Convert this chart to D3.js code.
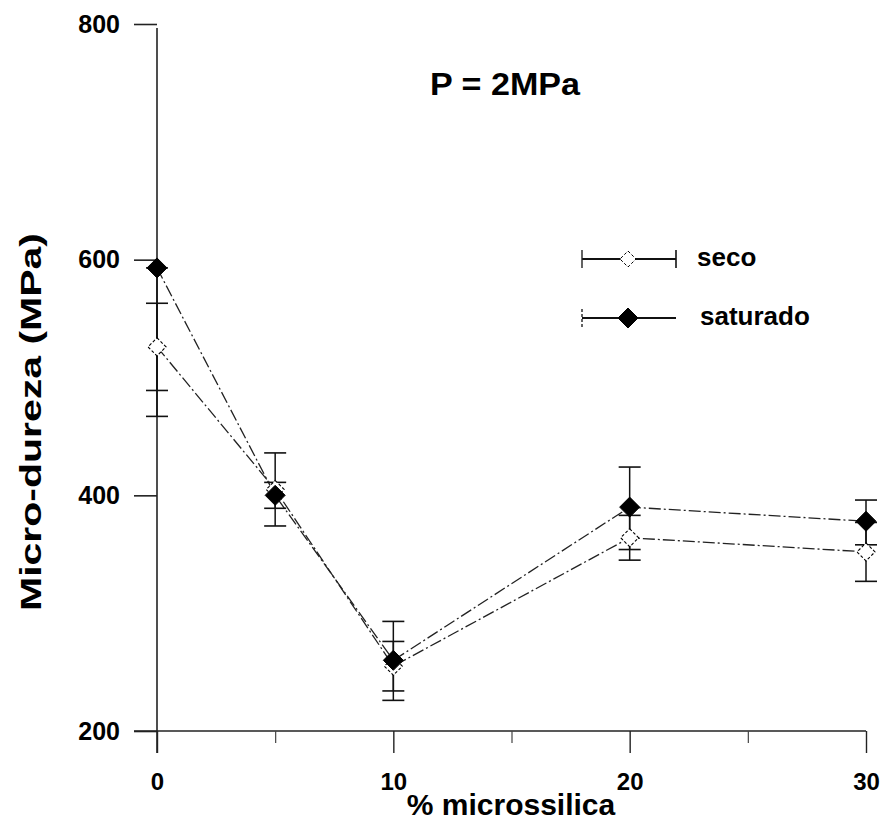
<!DOCTYPE html>
<html>
<head>
<meta charset="utf-8">
<script src="https://cdn.jsdelivr.net/npm/d3@7"></script>
<style>
  html, body { margin: 0; padding: 0; background: #fff; }
  text { font-family: "Liberation Sans", Arial, sans-serif; font-weight: bold; fill: #000; }
</style>
</head>
<body>
<svg id="chart" width="885" height="830"></svg>
<script>
// ---- data ----
const xValues = [0, 5, 10, 20, 30];
const xTickLabels = [0, 10, 20, 30];
const xMinorTicks = [5, 15, 25];
const yTickLabels = [200, 400, 600, 800];

const secoValues = [526, 405, 255, 364, 352];
const secoLow    = [489, 374, 234, 345, 327];
const secoHigh   = [563, 436, 276, 383, 377];

const saturadoValues = [593, 400, 260, 390, 378];
const saturadoLow    = [467, 389, 226, 354, 358];
const saturadoHigh   = [593, 411, 293, 424, 396];

const seriesNames = ["seco", "saturado"];
const titleText = "P = 2MPa";
const xTitle = "% microssilica";
const yTitle = "Micro-dureza (MPa)";

// ---- layout ----
const svg = d3.select("#chart");
const x = d3.scaleLinear().domain([0, 30]).range([157, 866]);
const y = d3.scaleLinear().domain([200, 800]).range([731, 24]);

// y axis
const yAxis = d3.axisLeft(y).tickValues(yTickLabels).tickSize(23).tickPadding(14).tickFormat(d3.format("d"));
const gy = svg.append("g").attr("transform", `translate(${x(0)},0)`).call(yAxis);
gy.select(".domain").attr("d", `M0,${y(800)+4}V${y(200)+22}`).attr("stroke", "#222").attr("stroke-width", 1.6);
gy.selectAll(".tick line").attr("stroke", "#222").attr("stroke-width", 1.6);
gy.selectAll(".tick text").style("font-size", "25px").style("font-family", "'Liberation Sans', Arial, sans-serif").style("font-weight", "bold").attr("fill", "#000");

// x axis
const xAxis = d3.axisBottom(x).tickValues(xTickLabels).tickSize(22).tickPadding(20).tickFormat(d3.format("d"));
const gx = svg.append("g").attr("transform", `translate(0,${y(200)})`).call(xAxis);
gx.select(".domain").attr("d", `M${x(0)-23},0H${x(30)}`).attr("stroke", "#222").attr("stroke-width", 1.6);
gx.selectAll(".tick line").attr("stroke", "#222").attr("stroke-width", 1.4);
gx.selectAll(".tick text").style("font-size", "24px").style("font-family", "'Liberation Sans', Arial, sans-serif").style("font-weight", "bold").attr("fill", "#000");
const xMinor = d3.axisBottom(x).tickValues(xMinorTicks).tickSize(12).tickFormat("");
const gxm = svg.append("g").attr("transform", `translate(0,${y(200)})`).call(xMinor);
gxm.select(".domain").remove();
gxm.selectAll(".tick line").attr("stroke", "#444").attr("stroke-width", 1.2);

// titles
svg.append("text").attr("x", 505).attr("y", 95).attr("text-anchor", "middle").style("font-size", "32px")
  .attr("textLength", 150).attr("lengthAdjust", "spacingAndGlyphs").text(titleText);
svg.append("text").attr("x", 511).attr("y", 815).attr("text-anchor", "middle").style("font-size", "30px").text(xTitle);
svg.append("text").attr("transform", "translate(41,422) rotate(-90)").attr("text-anchor", "middle").style("font-size", "30px")
  .attr("textLength", 378).attr("lengthAdjust", "spacingAndGlyphs").text(yTitle);

// series
const series = [
  { name: seriesNames[0], vals: secoValues, lo: secoLow, hi: secoHigh, filled: false },
  { name: seriesNames[1], vals: saturadoValues, lo: saturadoLow, hi: saturadoHigh, filled: true }
];

const line = d3.line().x((d, i) => x(xValues[i])).y(d => y(d));
const diamond = r => `M0,${-r}L${r},0L0,${r}L${-r},0Z`;

series.forEach(s => {
  svg.append("path").datum(s.vals).attr("d", line)
    .attr("fill", "none").attr("stroke", "#222").attr("stroke-width", 1.3)
    .attr("stroke-dasharray", "12,3,2,3");
});

series.forEach(s => {
  const g = svg.append("g");
  s.vals.forEach((v, i) => {
    const cx = x(xValues[i]);
    g.append("line").attr("x1", cx).attr("x2", cx).attr("y1", y(s.lo[i])).attr("y2", y(s.hi[i]))
      .attr("stroke", "#111").attr("stroke-width", 1.5);
    [s.lo[i], s.hi[i]].forEach(c => {
      g.append("line").attr("x1", cx - 11).attr("x2", cx + 11).attr("y1", y(c)).attr("y2", y(c))
        .attr("stroke", "#111").attr("stroke-width", 1.6);
    });
  });
});

series.forEach(s => {
  svg.append("g").selectAll("path").data(s.vals).join("path")
    .attr("transform", (d, i) => `translate(${x(xValues[i])},${y(d)})`)
    .attr("d", s.filled ? diamond(10) : diamond(9))
    .attr("fill", s.filled ? "#000" : "#fff")
    .attr("stroke", "#000").attr("stroke-width", s.filled ? 1 : 1.1)
    .attr("stroke-dasharray", s.filled ? null : "3,2");
});

// legend
const legendY = [259, 318];
series.forEach((s, i) => {
  const ly = legendY[i];
  const g = svg.append("g");
  g.append("line").attr("x1", 582).attr("x2", 676).attr("y1", ly).attr("y2", ly).attr("stroke", "#111").attr("stroke-width", 1.8);
  g.append("line").attr("x1", 582).attr("x2", 582).attr("y1", ly - 9).attr("y2", ly + 9).attr("stroke", "#222").attr("stroke-width", 1.4)
    .attr("stroke-dasharray", i === 1 ? "3,2" : null);
  if (i === 0) {
    g.append("line").attr("x1", 676).attr("x2", 676).attr("y1", ly - 9).attr("y2", ly + 9).attr("stroke", "#111").attr("stroke-width", 1.6);
  }
  g.append("path").attr("transform", `translate(628,${ly})`).attr("d", s.filled ? diamond(10) : diamond(8))
    .attr("fill", s.filled ? "#000" : "#fff").attr("stroke", "#000").attr("stroke-width", 1)
    .attr("stroke-dasharray", s.filled ? null : "3,2");
  g.append("text").attr("x", i === 0 ? 697 : 700).attr("y", ly + 7).style("font-size", "26px").text(s.name);
});
</script>
</body>
</html>
